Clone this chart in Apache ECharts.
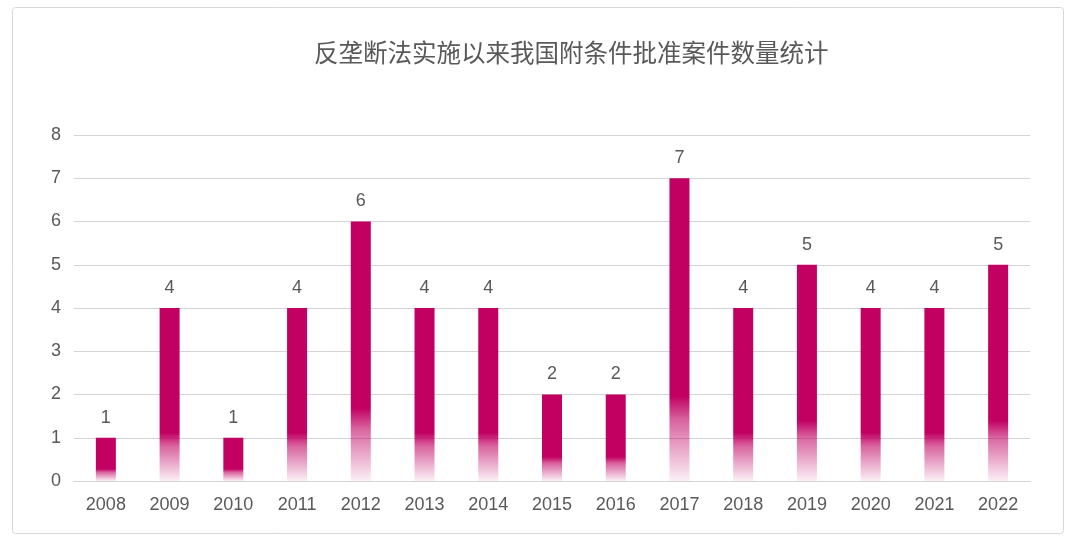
<!DOCTYPE html>
<html><head><meta charset="utf-8">
<script src="https://cdn.jsdelivr.net/npm/echarts@6/dist/echarts.min.js"></script>
<style>html,body{margin:0;padding:0;background:#fff}#c{width:1080px;height:543px}</style>
</head><body><div id="c"></div>
<script>
const categories = ['2008','2009','2010','2011','2012','2013','2014','2015','2016','2017','2018','2019','2020','2021','2022'];
const values = [1,4,1,4,6,4,4,2,2,7,4,5,4,4,5];
const titleText = '反垄断法实施以来我国附条件批准案件数量统计';
const chart = echarts.init(document.getElementById('c'));
const base = '#C10062';
chart.setOption({
  animation:false,
  graphic:[{type:'rect',shape:{x:12.5,y:7.5,width:1051,height:526,r:3},style:{fill:'none',stroke:'#d6d6d6',lineWidth:1},silent:true}],
  title:{text:titleText,left:309,top:35,textStyle:{fontFamily:'Noto Sans CJK SC',fontSize:24.5,fontWeight:'normal',color:'#595959'}},
  grid:{left:74,right:50,top:135,bottom:62},
  xAxis:{type:'category',data:categories,
    axisLine:{lineStyle:{color:'#d4d4d4'}},axisTick:{show:false},
    axisLabel:{color:'#595959',fontSize:18,fontFamily:'Liberation Sans',margin:15}},
  yAxis:{type:'value',min:0,max:8,interval:1,
    axisLine:{show:false},axisTick:{show:false},
    splitLine:{lineStyle:{color:'#d4d4d4',width:1}},
    axisLabel:{color:'#595959',fontSize:18,fontFamily:'Liberation Sans',margin:13}},
  series:[{type:'bar',data:values,barWidth:20,
    itemStyle:{color:new echarts.graphic.LinearGradient(0,0,0,1,[
      {offset:0,color:base},{offset:0.72,color:base},{offset:0.8,color:'rgba(193,0,98,0.6)'},{offset:1,color:'rgba(193,0,98,0.06)'}])},
    label:{show:true,position:'top',distance:11,color:'#595959',fontSize:18,fontFamily:'Liberation Sans'}}]
});
</script></body></html>
